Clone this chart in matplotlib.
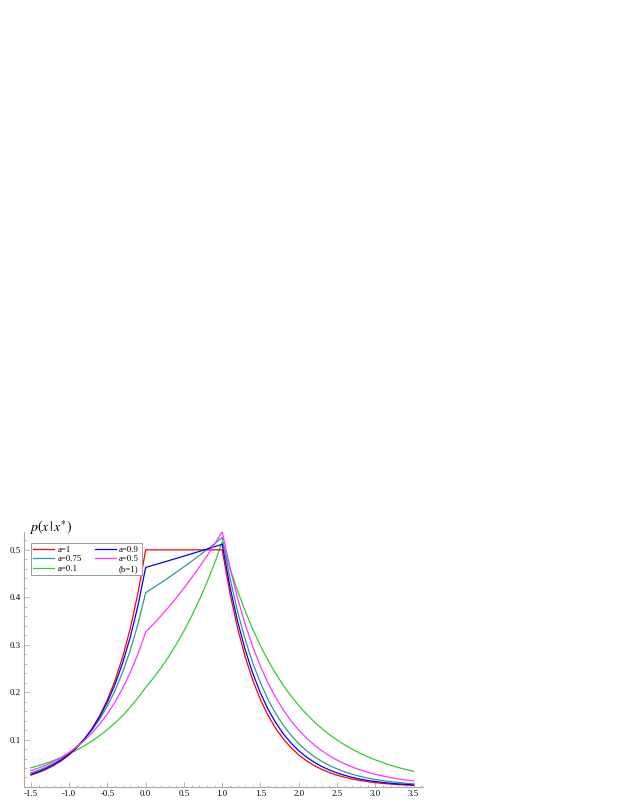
import numpy as np
import matplotlib
matplotlib.use('Agg')
import matplotlib.pyplot as plt
from matplotlib.lines import Line2D
from matplotlib.ticker import MultipleLocator

plt.rcParams['font.family'] = ['Liberation Serif', 'DejaVu Serif']
plt.rcParams['mathtext.fontset'] = 'stix'
plt.rcParams['axes.unicode_minus'] = False

# x grid, step 0.1 from -1.5 to 3.5
x = np.round(np.arange(-15, 36) / 10, 1)

# curves (b=1)
p_a1 = [0.0249, 0.0304, 0.0371, 0.0454, 0.0554, 0.0677, 0.0826, 0.1009, 0.1233, 0.1506,
        0.1839, 0.2247, 0.2744, 0.3352, 0.4094, 0.5000,
        0.5000, 0.5000, 0.5000, 0.5000, 0.5000, 0.5000, 0.5000, 0.5000, 0.5000, 0.5000,
        0.4094, 0.3352, 0.2744, 0.2247, 0.1839, 0.1506, 0.1233, 0.1009, 0.0826, 0.0677,
        0.0554, 0.0454, 0.0371, 0.0304, 0.0249, 0.0204, 0.0167, 0.0137, 0.0112, 0.0092,
        0.0075, 0.0061, 0.0050, 0.0041, 0.0034]
p_a09 = [0.0268, 0.0324, 0.0392, 0.0474, 0.0573, 0.0693, 0.0837, 0.1013, 0.1225, 0.1481,
         0.1791, 0.2165, 0.2619, 0.3166, 0.3829, 0.4630,
         0.4677, 0.4724, 0.4771, 0.4819, 0.4868, 0.4917, 0.4966, 0.5016, 0.5066, 0.5117,
         0.4232, 0.3500, 0.2894, 0.2393, 0.1979, 0.1637, 0.1353, 0.1119, 0.0926, 0.0765,
         0.0633, 0.0523, 0.0433, 0.0358, 0.0296, 0.0245, 0.0202, 0.0167, 0.0138, 0.0115,
         0.0095, 0.0078, 0.0065, 0.0054, 0.0044]
p_a075 = [0.0297, 0.0353, 0.0421, 0.0502, 0.0598, 0.0712, 0.0848, 0.1010, 0.1203, 0.1433,
          0.1708, 0.2034, 0.2423, 0.2887, 0.3439, 0.4096,
          0.4200, 0.4306, 0.4415, 0.4527, 0.4642, 0.4759, 0.4880, 0.5003, 0.5130, 0.5260,
          0.4415, 0.3706, 0.3111, 0.2612, 0.2193, 0.1841, 0.1545, 0.1297, 0.1089, 0.0914,
          0.0767, 0.0644, 0.0541, 0.0454, 0.0381, 0.0320, 0.0268, 0.0225, 0.0189, 0.0159,
          0.0133, 0.0112, 0.0094, 0.0079, 0.0066]
p_a05 = [0.0344, 0.0400, 0.0464, 0.0540, 0.0627, 0.0728, 0.0846, 0.0983, 0.1142, 0.1327,
         0.1542, 0.1792, 0.2082, 0.2418, 0.2810, 0.3265,
         0.3432, 0.3608, 0.3793, 0.3987, 0.4192, 0.4407, 0.4633, 0.4870, 0.5120, 0.5382,
         0.4633, 0.3987, 0.3432, 0.2954, 0.2542, 0.2188, 0.1884, 0.1621, 0.1395, 0.1201,
         0.1034, 0.0890, 0.0766, 0.0659, 0.0567, 0.0488, 0.0420, 0.0362, 0.0311, 0.0268,
         0.0231, 0.0199, 0.0171, 0.0147, 0.0127]
p_a01 = [0.0403, 0.0450, 0.0502, 0.0560, 0.0626, 0.0698, 0.0779, 0.0870, 0.0971, 0.1084,
         0.1210, 0.1351, 0.1508, 0.1684, 0.1879, 0.2098,
         0.2295, 0.2512, 0.2748, 0.3007, 0.3290, 0.3600, 0.3939, 0.4310, 0.4716, 0.5160,
         0.4622, 0.4141, 0.3710, 0.3323, 0.2977, 0.2667, 0.2389, 0.2140, 0.1917, 0.1718,
         0.1539, 0.1378, 0.1235, 0.1106, 0.0991, 0.0888, 0.0795, 0.0712, 0.0638, 0.0572,
         0.0512, 0.0459, 0.0411, 0.0368, 0.0330]

labels = ['a=1', 'a=0.75', 'a=0.1', 'a=0.9', 'a=0.5']
series = [p_a1, p_a075, p_a01, p_a09, p_a05]
colors = ['#ff0000', '#2f9999', '#33cc33', '#0000ff', '#ff33ff']

fig = plt.figure(figsize=(6.23, 8.06), dpi=100)
ax = fig.add_axes([0.0385, 0.0236, 0.640, 0.316])

handles = []
for ys, c, lab in zip(series, colors, labels):
    h, = ax.plot(x, ys, color=c, lw=0.9, label=lab)
    handles.append(h)
# green sits under the rest
for h in handles:
    h.set_zorder(3)
handles[2].set_zorder(2)

ax.set_xlim(-1.59, 3.62)
ax.set_ylim(0.0, 0.537)

for s in ['top', 'right']:
    ax.spines[s].set_visible(False)
for s in ['left', 'bottom']:
    ax.spines[s].set_color('#aaaaaa')
    ax.spines[s].set_linewidth(0.8)

ax.set_xticks([-1.5, -1.0, -0.5, 0.0, 0.5, 1.0, 1.5, 2.0, 2.5, 3.0, 3.5])
ax.set_yticks([0.1, 0.2, 0.3, 0.4, 0.5])
ax.xaxis.set_minor_locator(MultipleLocator(0.1))
ax.yaxis.set_minor_locator(MultipleLocator(0.02))
ax.tick_params(which='both', direction='in', color='#aaaaaa', labelsize=6.3, pad=2)
ax.tick_params(which='major', length=3.5, width=0.6)
ax.tick_params(which='minor', length=1.8, width=0.5)
ax.xaxis.set_major_formatter(plt.FormatStrFormatter('%.1f'))
ax.yaxis.set_major_formatter(plt.FormatStrFormatter('%.1f'))

ax.text(0.013, 1.02, r'$p(x\,\vert\,x^{*})$', transform=ax.transAxes,
        fontsize=10, ha='left', va='center')

blank = Line2D([], [], color='none')
leg = ax.legend(handles + [blank], labels + ['(b=1)'], ncol=2,
                loc='upper left', bbox_to_anchor=(0.017, 0.957), borderaxespad=0,
                fontsize=6.3, handlelength=2.4, handletextpad=0.4, labelspacing=0.15,
                columnspacing=1.4, borderpad=0.3, fancybox=False, framealpha=1,
                edgecolor='#999999')
leg.get_frame().set_linewidth(0.7)
leg.set_zorder(5)

fig.savefig('out.png', dpi=100)
